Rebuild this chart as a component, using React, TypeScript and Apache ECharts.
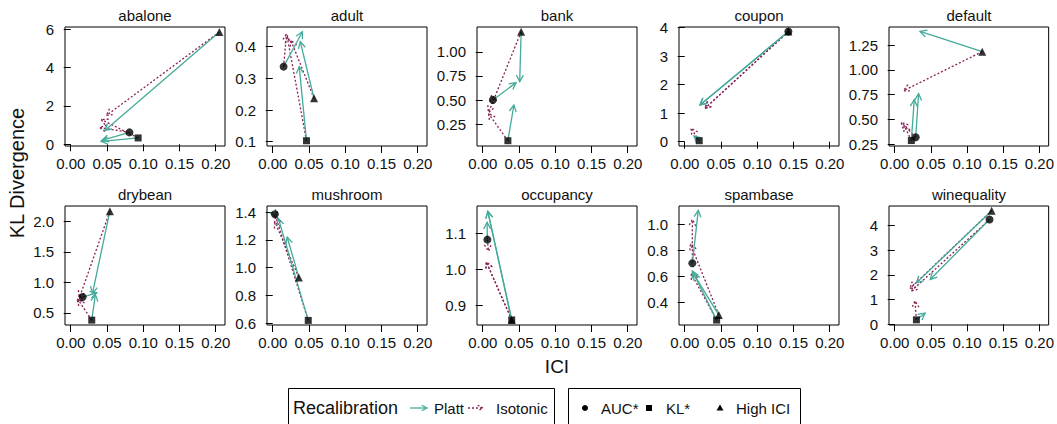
import React, { useEffect, useRef } from "react";
import * as echarts from "echarts";

// ---------- data ----------
const DATASETS = ["abalone", "adult", "bank", "coupon", "default", "drybean", "mushroom", "occupancy", "spambase", "winequality"];

const X_TICKS = [0, 0.05, 0.1, 0.15, 0.2];
const X_RANGE = [-0.0079, 0.2128];

const Y_RANGES: [number, number][] = [
  [-0.09, 6.12],
  [0.0864, 0.462],
  [0.023, 1.257],
  [-0.15, 4.02],
  [0.232, 1.434],
  [0.3, 2.256],
  [0.587, 1.445],
  [0.846, 1.175],
  [0.222, 1.143],
  [-0.03, 4.8],
];
const Y_TICKS: number[][] = [
  [0, 2, 4, 6],
  [0.1, 0.2, 0.3, 0.4],
  [0.25, 0.5, 0.75, 1.0],
  [0, 1, 2, 3, 4],
  [0.25, 0.5, 0.75, 1.0, 1.25],
  [0.5, 1.0, 1.5, 2.0],
  [0.6, 0.8, 1.0, 1.2, 1.4],
  [0.9, 1.0, 1.1],
  [0.4, 0.6, 0.8, 1.0],
  [0, 1, 2, 3, 4],
];
const Y_DECIMALS = [0, 1, 2, 0, 2, 1, 1, 1, 1, 0];

// start points (ICI, KL divergence)
const aucStar: [number, number][] = [
  [0.081, 0.62], [0.015, 0.337], [0.014, 0.5], [0.143, 3.86], [0.029, 0.32],
  [0.0164, 0.76], [0.003, 1.385], [0.0064, 1.082], [0.0105, 0.7], [0.131, 4.25],
];
const klStar: [number, number][] = [
  [0.093, 0.33], [0.0466, 0.103], [0.0347, 0.078], [0.02, 0.035], [0.023, 0.287],
  [0.029, 0.38], [0.049, 0.62], [0.04, 0.86], [0.044, 0.26], [0.03, 0.18],
];
const highIci: [number, number][] = [
  [0.205, 5.86], [0.057, 0.237], [0.053, 1.208], [0.143, 3.86], [0.121, 1.185],
  [0.054, 2.17], [0.036, 0.93], [0.04, 0.86], [0.047, 0.3], [0.134, 4.61],
];

// Platt recalibrated end points
const plattAuc: [number, number][] = [
  [0.043, 0.2], [0.041, 0.447], [0.046, 0.68], [0.021, 1.29], [0.033, 0.76],
  [0.036, 0.83], [0.005, 1.37], [0.006, 1.13], [0.0187, 1.109], [0.049, 1.82],
];
const plattKl: [number, number][] = [
  [0.042, 0.15], [0.0365, 0.337], [0.043, 0.448], [0.0128, 0.2], [0.027, 0.7],
  [0.034, 0.8], [0.0078, 1.355], [0.007, 1.16], [0.0105, 0.64], [0.042, 0.45],
];
const plattHigh: [number, number][] = [
  [0.047, 0.72], [0.038, 0.416], [0.051, 0.69], [0.021, 1.29], [0.035, 1.39],
  [0.03, 0.82], [0.02, 1.22], [0.007, 1.16], [0.012, 0.62], [0.03, 1.68],
];

// Isotonic recalibrated end points
const isoAuc: [number, number][] = [
  [0.04, 0.87], [0.019, 0.44], [0.012, 0.55], [0.028, 1.17], [0.009, 0.47],
  [0.008, 0.68], [0.004, 1.36], [0.008, 1.05], [0.0105, 1.04], [0.023, 1.35],
];
const isoKl: [number, number][] = [
  [0.042, 1.3], [0.02, 0.43], [0.008, 0.36], [0.0087, 0.47], [0.013, 0.44],
  [0.01, 0.72], [0.004, 1.37], [0.005, 1.02], [0.009, 0.62], [0.028, 0.95],
];
const isoHigh: [number, number][] = [
  [0.049, 1.5], [0.025, 0.42], [0.008, 0.37], [0.028, 1.17], [0.012, 0.79],
  [0.012, 0.75], [0.003, 1.33], [0.005, 1.02], [0.008, 0.85], [0.021, 1.45],
];

// ---------- styling ----------
const PLATT = "#44AA99";
const ISO = "#882255";
const FONT = "Liberation Sans, Arial, Helvetica, sans-serif";
const GRID_LEFTS = [65, 267, 477, 679, 889];
const GRID_TOPS = [27, 206];
const GRID_W = 160;
const GRID_H = 119;

function arrowRenderer(color: string, dashed: boolean) {
  return (_params: any, api: any) => {
    const p0 = api.coord([api.value(0), api.value(1)]);
    const p1 = api.coord([api.value(2), api.value(3)]);
    const ang = Math.atan2(p1[1] - p0[1], p1[0] - p0[0]);
    const L = 7.5;
    const a = Math.PI / 6.5;
    const h1 = [p1[0] - L * Math.cos(ang - a), p1[1] - L * Math.sin(ang - a)];
    const h2 = [p1[0] - L * Math.cos(ang + a), p1[1] - L * Math.sin(ang + a)];
    const style: any = { stroke: color, lineWidth: 1.3, fill: null };
    if (dashed) style.lineDash = [2, 2];
    return {
      type: "group",
      children: [
        { type: "line", shape: { x1: p0[0], y1: p0[1], x2: p1[0], y2: p1[1] }, style },
        { type: "polyline", shape: { points: [h1, p1, h2] }, style },
      ],
    };
  };
}

function legendArrow(x1: number, x2: number, y: number, color: string, dashed: boolean) {
  const L = 6;
  const a = Math.PI / 6.5;
  const style: any = { stroke: color, lineWidth: 1.3, fill: null };
  if (dashed) style.lineDash = [2, 2];
  return [
    { type: "line", shape: { x1, y1: y, x2, y2: y }, style },
    {
      type: "polyline",
      shape: { points: [[x2 - L * Math.cos(a), y - L * Math.sin(a)], [x2, y], [x2 - L * Math.cos(a), y + L * Math.sin(a)]] },
      style,
    },
  ];
}

function buildOption() {
  const grid: any[] = [];
  const xAxis: any[] = [];
  const yAxis: any[] = [];
  const series: any[] = [];
  const graphic: any[] = [];

  DATASETS.forEach((name, i) => {
    const col = i % 5;
    const row = Math.floor(i / 5);
    const left = GRID_LEFTS[col];
    const top = GRID_TOPS[row];
    grid.push({
      left, top, width: GRID_W, height: GRID_H,
      show: true, borderColor: "#000", borderWidth: 1, backgroundColor: "transparent",
    });
    xAxis.push({
      type: "value", gridIndex: i, min: X_RANGE[0], max: X_RANGE[1],
      axisLine: { show: false },
      axisTick: { show: true, length: 7, customValues: X_TICKS, lineStyle: { color: "#000", width: 1 } },
      axisLabel: {
        customValues: X_TICKS, formatter: (v: number) => v.toFixed(2),
        fontSize: 15, color: "#111", fontFamily: FONT, margin: 10,
      },
      splitLine: { show: false },
    });
    const dec = Y_DECIMALS[i];
    yAxis.push({
      type: "value", gridIndex: i, min: Y_RANGES[i][0], max: Y_RANGES[i][1],
      axisLine: { show: false },
      axisTick: { show: true, length: 7, customValues: Y_TICKS[i], lineStyle: { color: "#000", width: 1 } },
      axisLabel: {
        customValues: Y_TICKS[i], formatter: (v: number) => v.toFixed(dec),
        fontSize: 15, color: "#111", fontFamily: FONT, margin: 11,
      },
      splitLine: { show: false },
    });

    const starts = [aucStar[i], klStar[i], highIci[i]];
    const isoEnds = [isoAuc[i], isoKl[i], isoHigh[i]];
    const plattEnds = [plattAuc[i], plattKl[i], plattHigh[i]];
    series.push({
      type: "custom", xAxisIndex: i, yAxisIndex: i, clip: false, z: 2,
      renderItem: arrowRenderer(ISO, true),
      encode: { x: [0, 2], y: [1, 3] },
      data: starts.map((s, k) => [s[0], s[1], isoEnds[k][0], isoEnds[k][1]]),
    });
    series.push({
      type: "custom", xAxisIndex: i, yAxisIndex: i, clip: false, z: 3,
      renderItem: arrowRenderer(PLATT, false),
      encode: { x: [0, 2], y: [1, 3] },
      data: starts.map((s, k) => [s[0], s[1], plattEnds[k][0], plattEnds[k][1]]),
    });
    series.push({
      type: "scatter", xAxisIndex: i, yAxisIndex: i, z: 4,
      symbol: "triangle", symbolSize: 8, itemStyle: { color: "#000" }, data: [highIci[i]],
    });
    series.push({
      type: "scatter", xAxisIndex: i, yAxisIndex: i, z: 5,
      symbol: "rect", symbolSize: 7, itemStyle: { color: "#000" }, data: [klStar[i]],
    });
    series.push({
      type: "scatter", xAxisIndex: i, yAxisIndex: i, z: 6,
      symbol: "circle", symbolSize: 8, itemStyle: { color: "#000" }, data: [aucStar[i]],
    });

    graphic.push({
      type: "text", x: left + GRID_W / 2, y: top - 12,
      style: { text: name, fontSize: 15, fontFamily: FONT, fill: "#111", textAlign: "center", textVerticalAlign: "middle" },
    });
  });

  // axis titles
  graphic.push({
    type: "text", x: 17, y: 173, rotation: Math.PI / 2,
    style: { text: "KL Divergence", fontSize: 20, fontFamily: FONT, fill: "#111", textAlign: "center", textVerticalAlign: "middle" },
  });
  graphic.push({
    type: "text", x: 557, y: 366,
    style: { text: "ICI", fontSize: 19, fontFamily: FONT, fill: "#111", textAlign: "center", textVerticalAlign: "middle" },
  });

  // legends
  const ly = 408;
  graphic.push({ type: "rect", shape: { x: 288.5, y: 388.5, width: 266, height: 40 }, style: { fill: "none", stroke: "#000", lineWidth: 1 } });
  graphic.push({ type: "rect", shape: { x: 568.5, y: 388.5, width: 232, height: 40 }, style: { fill: "none", stroke: "#000", lineWidth: 1 } });
  graphic.push({
    type: "text", x: 293, y: ly,
    style: { text: "Recalibration", fontSize: 18, fontFamily: FONT, fill: "#111", textAlign: "left", textVerticalAlign: "middle" },
  });
  legendArrow(410, 427, ly, PLATT, false).forEach((g) => graphic.push(g));
  graphic.push({
    type: "text", x: 434, y: ly,
    style: { text: "Platt", fontSize: 15, fontFamily: FONT, fill: "#111", textAlign: "left", textVerticalAlign: "middle" },
  });
  legendArrow(468, 483, ly, ISO, true).forEach((g) => graphic.push(g));
  graphic.push({
    type: "text", x: 496, y: ly,
    style: { text: "Isotonic", fontSize: 15, fontFamily: FONT, fill: "#111", textAlign: "left", textVerticalAlign: "middle" },
  });
  graphic.push({ type: "circle", shape: { cx: 585, cy: ly, r: 3 }, style: { fill: "#000" } });
  graphic.push({
    type: "text", x: 601, y: ly,
    style: { text: "AUC*", fontSize: 15, fontFamily: FONT, fill: "#111", textAlign: "left", textVerticalAlign: "middle" },
  });
  graphic.push({ type: "rect", shape: { x: 646, y: ly - 3, width: 6, height: 6 }, style: { fill: "#000" } });
  graphic.push({
    type: "text", x: 666, y: ly,
    style: { text: "KL*", fontSize: 15, fontFamily: FONT, fill: "#111", textAlign: "left", textVerticalAlign: "middle" },
  });
  graphic.push({ type: "polygon", shape: { points: [[720, ly - 3.5], [723.5, ly + 2.5], [716.5, ly + 2.5]] }, style: { fill: "#000" } });
  graphic.push({
    type: "text", x: 736, y: ly,
    style: { text: "High ICI", fontSize: 15, fontFamily: FONT, fill: "#111", textAlign: "left", textVerticalAlign: "middle" },
  });

  return {
    animation: false,
    backgroundColor: "#fff",
    textStyle: { fontFamily: FONT },
    grid, xAxis, yAxis, series, graphic,
  };
}

export default function App() {
  const ref = useRef<HTMLDivElement>(null);
  useEffect(() => {
    if (!ref.current) return;
    const chart = echarts.init(ref.current, undefined, { renderer: "svg" });
    chart.setOption(buildOption() as any);
    return () => chart.dispose();
  }, []);
  return <div ref={ref} style={{ position: "absolute", left: 0, top: 0, width: 1057, height: 424 }} />;
}
